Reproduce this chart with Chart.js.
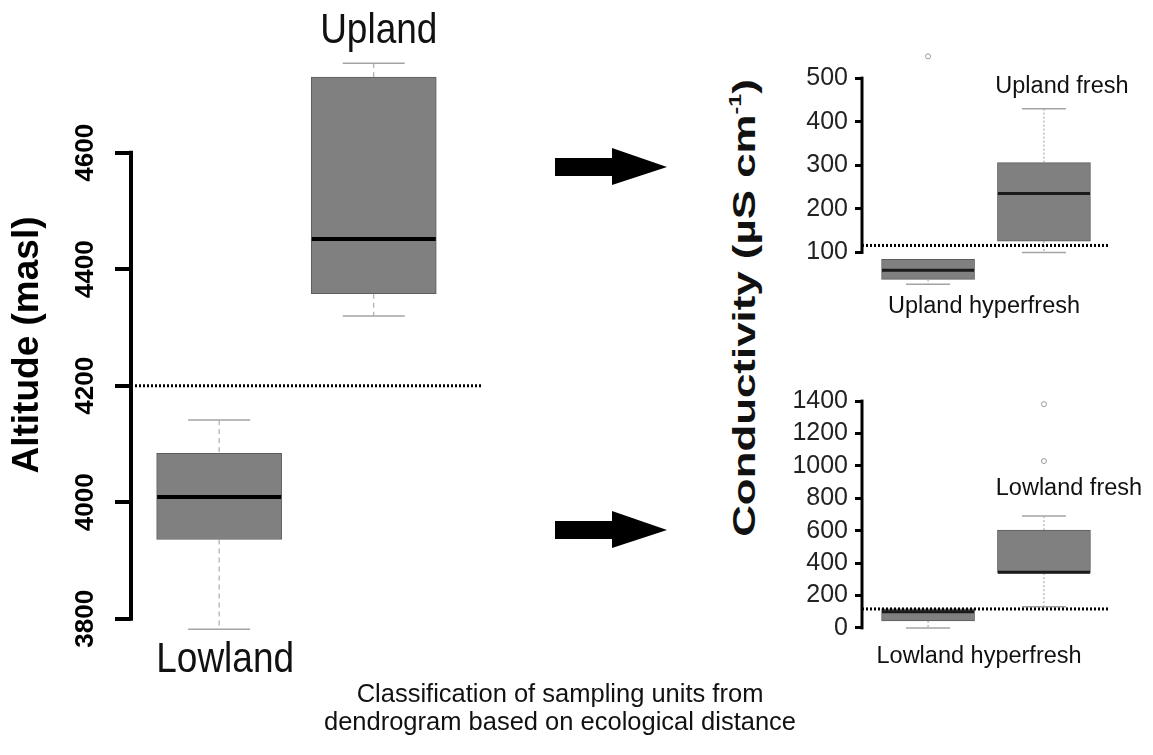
<!DOCTYPE html>
<html>
<head>
<meta charset="utf-8">
<script src="https://cdn.jsdelivr.net/npm/chart.js@4.4.0/dist/chart.umd.min.js"></script>
<style>
  html, body { margin: 0; padding: 0; background: #fff; }
  body { width: 1153px; height: 755px; position: relative; overflow: hidden; font-family: 'Liberation Sans', Arial, sans-serif; }
  canvas { position: absolute; }
  #chart-alt { left: 0; top: 0; }
  #chart-up { left: 790px; top: 40px; }
  #chart-low { left: 790px; top: 380px; }
  #cond-title {
    position: absolute; left: 744px; top: 308px;
    transform: translate(-50%, -50%) rotate(-90deg) scaleX(1.37);
    white-space: nowrap; font-weight: bold; font-size: 32px; line-height: 1; color: #111;
  }
  #cond-title sup { font-size: 17px; line-height: 0; position: relative; top: -0.15em; vertical-align: super; }
  #caption {
    position: absolute; left: 260px; top: 679px; width: 600px; text-align: center;
    font-size: 25.5px; line-height: 28px; color: #111;
  }
  #arrows { position: absolute; left: 0; top: 0; }
</style>
</head>
<body>
<canvas id="chart-alt" width="520" height="700"></canvas>
<canvas id="chart-up" width="363" height="300"></canvas>
<canvas id="chart-low" width="363" height="300"></canvas>
<div id="cond-title">Conductivity (µS cm<sup>-1</sup>)</div>
<div id="caption">Classification of sampling units from<br>dendrogram based on ecological distance</div>
<svg id="arrows" width="1153" height="755">
  <polygon points="555,158 612,158 612,148 667,167 612,185 612,176 555,176" fill="#000"/>
  <polygon points="555,521 612,521 612,511 667,530 612,548 612,539 555,539" fill="#000"/>
</svg>
<script>
const FONT = "'Liberation Sans', Arial, sans-serif";

// --- Altitude (left panel) ---
const altGroups = ['Lowland', 'Upland'];
const altMin = [3782, 4320];
const altQ1 = [3936, 4358];
const altMedian = [4009, 4452];
const altQ3 = [4084, 4730];
const altMax = [4141, 4754];
const altOutliers = [[], []];
const altThreshold = 4200;
const altTicks = [3800, 4000, 4200, 4400, 4600];

// --- Conductivity, upland ---
const upGroups = ['Upland hyperfresh', 'Upland fresh'];
const upMin = [27, 100];
const upQ1 = [38, 126];
const upMedian = [59, 235];
const upQ3 = [84, 306];
const upMax = [84, 430];
const upOutliers = [[550], []];
const upThreshold = 116;
const upTicks = [100, 200, 300, 400, 500];

// --- Conductivity, lowland ---
const lowGroups = ['Lowland hyperfresh', 'Lowland fresh'];
const lowMin = [0, 130];
const lowQ1 = [43, 338];
const lowMedian = [100, 343];
const lowQ3 = [117, 604];
const lowMax = [117, 690];
const lowOutliers = [[], [1030, 1381]];
const lowThreshold = 117;
const lowTicks = [0, 200, 400, 600, 800, 1000, 1200, 1400];

// R style axis: line only between first and last tick
const axisLinePlugin = {
  id: 'axisLine',
  beforeDatasetsDraw(chart, args, opts) {
    const ys = chart.scales.y;
    const t = ys.ticks;
    const ctx = chart.ctx;
    const w = opts.width || 3;
    ctx.save();
    ctx.strokeStyle = '#000';
    ctx.lineWidth = w;
    ctx.beginPath();
    ctx.moveTo(ys.right, ys.getPixelForValue(t[0].value) + w / 2);
    ctx.lineTo(ys.right, ys.getPixelForValue(t[t.length - 1].value) - w / 2);
    ctx.stroke();
    ctx.restore();
  }
};

function labelsPlugin(items) {
  return {
    id: 'groupLabels',
    afterDraw(chart) {
      const ctx = chart.ctx;
      const xs = chart.scales.x;
      items.forEach(it => {
        ctx.save();
        ctx.font = it.font;
        ctx.fillStyle = '#111';
        ctx.textAlign = 'center';
        ctx.textBaseline = 'alphabetic';
        ctx.translate(xs.getPixelForValue(it.index) + it.dx, it.baseline);
        ctx.scale(it.sx || 1, 1);
        ctx.fillText(it.text, 0, 0);
        ctx.restore();
      });
    }
  };
}

function boxDatasets(s, st) {
  const whisk = [], caps = [], outl = [];
  for (let i = 0; i < s.min.length; i++) {
    whisk.push({x: i, y: s.max[i]}, {x: i, y: s.q3[i]}, {x: i, y: null},
               {x: i, y: s.q1[i]}, {x: i, y: s.min[i]}, {x: i, y: null});
    if (s.max[i] > s.q3[i]) caps.push({x: i, y: s.max[i]});
    if (s.min[i] < s.q1[i]) caps.push({x: i, y: s.min[i]});
    s.outliers[i].forEach(v => outl.push({x: i, y: v}));
  }
  return [
    { type: 'line', data: [{x: st.xMin, y: s.threshold}, {x: st.xMax, y: s.threshold}],
      borderColor: '#000', borderWidth: 3, borderDash: [2, 2], pointRadius: 0 },
    { type: 'scatter', data: s.median.map((v, i) => ({x: i, y: v})), pointStyle: 'line',
      pointRadius: st.medianR, pointBorderWidth: st.medianW, pointBorderColor: st.medianColor },
    { type: 'scatter', data: outl, pointStyle: 'circle', pointRadius: 2.5,
      pointBorderWidth: 1, pointBorderColor: '#999', pointBackgroundColor: '#fff' },
    { type: 'scatter', data: caps, pointStyle: 'line', pointRadius: st.capR,
      pointBorderWidth: 1.5, pointBorderColor: '#a3a3a3' },
    { type: 'line', data: whisk, borderColor: '#9a9a9a', borderWidth: 1, borderDash: st.whiskDash,
      pointRadius: 0, spanGaps: false },
    { type: 'bar', data: s.q1.map((v, i) => ({x: i, y: [v, s.q3[i]]})),
      backgroundColor: '#808080', borderColor: '#5c5c5c', borderWidth: 1, borderSkipped: false,
      barThickness: st.barW }
  ];
}

function makeChart(id, s, st, labels) {
  return new Chart(document.getElementById(id), {
    type: 'bar',
    data: { datasets: boxDatasets(s, st) },
    options: {
      responsive: false,
      animation: false,
      events: [],
      layout: { padding: st.padding, autoPadding: false },
      plugins: { legend: { display: false }, tooltip: { enabled: false }, axisLine: { width: st.axisW } },
      scales: {
        x: { type: 'linear', display: false, min: st.xMin, max: st.xMax, offset: false },
        y: {
          type: 'linear', min: st.yMin, max: st.yMax,
          afterBuildTicks: sc => { sc.ticks = s.ticks.map(v => ({value: v})); },
          afterFit: sc => {
            sc.width = st.axisWidth;
            sc.paddingTop = 0; sc.paddingBottom = 0;
          },
          border: { display: false },
          grid: { drawOnChartArea: false, drawTicks: true, tickLength: st.tickLen, lineWidth: st.axisW, color: '#000' },
          ticks: Object.assign({ callback: v => String(v) }, st.ticks),
          title: st.title || { display: false }
        }
      }
    },
    plugins: [axisLinePlugin, labelsPlugin(labels)]
  });
}

// left panel
makeChart('chart-alt',
  { min: altMin, q1: altQ1, median: altMedian, q3: altQ3, max: altMax, outliers: altOutliers,
    threshold: altThreshold, ticks: altTicks },
  { xMin: -0.57, xMax: 1.70, yMin: 3760, yMax: 4780, padding: { left: 0, right: 38, top: 48, bottom: 58 },
    axisWidth: 131, axisW: 4, tickLen: 16, barW: 125, medianR: 62, medianW: 4, medianColor: '#000',
    capR: 31, whiskDash: [5, 4],
    ticks: { autoSkip: false, minRotation: 90, maxRotation: 90, crossAlign: 'center', padding: 0,
             color: '#000', font: { family: FONT, size: 26, weight: 'bold' } },
    title: { display: true, text: 'Altitude (masl)', color: '#000',
             font: { family: FONT, size: 37, weight: 'bold' }, padding: { top: 6, bottom: 0 } } },
  [ { text: altGroups[1], index: 1, dx: 5, baseline: 43, font: '43px ' + FONT, sx: 0.86 },
    { text: altGroups[0], index: 0, dx: 6, baseline: 672, font: '43px ' + FONT, sx: 0.86 } ]
);

const rightTicks = { autoSkip: false, padding: 7, color: '#222', font: { family: FONT, size: 25 } };

// right top panel
makeChart('chart-up',
  { min: upMin, q1: upQ1, median: upMedian, q3: upQ3, max: upMax, outliers: upOutliers,
    threshold: upThreshold, ticks: upTicks },
  { xMin: -0.57, xMax: 1.57, yMin: 0, yMax: 560, padding: { left: 0, right: 43, top: 12, bottom: 44 },
    axisWidth: 72, axisW: 3, tickLen: 7, barW: 93, medianR: 46, medianW: 3, medianColor: '#1a1a1a',
    capR: 22, whiskDash: [2, 2], ticks: rightTicks },
  [ { text: upGroups[1], index: 1, dx: 18, baseline: 53, font: '23.5px ' + FONT },
    { text: upGroups[0], index: 0, dx: 56, baseline: 273, font: '23.5px ' + FONT } ]
);

// right bottom panel
makeChart('chart-low',
  { min: lowMin, q1: lowQ1, median: lowMedian, q3: lowQ3, max: lowMax, outliers: lowOutliers,
    threshold: lowThreshold, ticks: lowTicks },
  { xMin: -0.57, xMax: 1.57, yMin: -50, yMax: 1450, padding: { left: 0, right: 43, top: 13, bottom: 44 },
    axisWidth: 72, axisW: 3, tickLen: 7, barW: 93, medianR: 46, medianW: 3, medianColor: '#1a1a1a',
    capR: 22, whiskDash: [2, 2], ticks: rightTicks },
  [ { text: lowGroups[1], index: 1, dx: 25, baseline: 115, font: '23.5px ' + FONT },
    { text: lowGroups[0], index: 0, dx: 51, baseline: 283, font: '23.5px ' + FONT } ]
);
</script>
</body>
</html>
